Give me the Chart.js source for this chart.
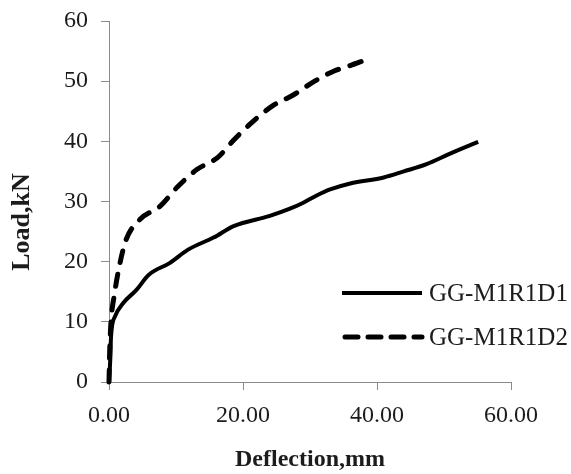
<!DOCTYPE html>
<html>
<head>
<meta charset="utf-8">
<script src="https://cdn.jsdelivr.net/npm/chart.js@4.4.1/dist/chart.umd.min.js"></script>
<style>
  html, body { margin: 0; padding: 0; background: #fff; }
  #wrap { width: 571px; height: 474px; }
</style>
</head>
<body>
<div id="wrap"><canvas id="chart" width="571" height="474"></canvas></div>
<script>
// Load-deflection readings taken off the figure
const d1Defl = [0, 0.2, 0.3, 0.9, 2.1, 4.1, 5.9, 9.1, 11.8, 15.6, 18.6, 24, 27, 29, 31, 33, 36, 41, 44, 47.4, 51, 55.1];
const d1Load = [0, 4, 7.5, 10.9, 13.1, 15.3, 17.8, 19.8, 22, 24, 25.9, 27.6, 28.8, 29.8, 31, 32, 33, 34, 35, 36.2, 38, 39.9];

const d2Defl = [0, 0.1, 0.3, 0.8, 1.5, 2.5, 4.6, 7.6, 10.2, 13.1, 16.2, 18.7, 21.3, 24.4, 27.5, 30.7, 33.6, 36, 38.2];
const d2Load = [0, 5, 10, 14.5, 19, 23.5, 27, 29.2, 32.4, 35.3, 37.3, 40.3, 43.1, 45.9, 47.7, 50, 51.7, 52.6, 53.5];

const seriesNames = ['GG-M1R1D1', 'GG-M1R1D2'];
const xTitle = 'Deflection,mm';
const yTitle = 'Load,kN';

const SERIF = '"Liberation Serif", "Times New Roman", serif';
const AXIS_GREY = '#8a8a8a';
const TEXT = '#1c1c1c';

const toPoints = (xs, ys) => xs.map((x, i) => ({ x, y: ys[i] }));

// legend drawn inside the plot, lower right
const insideLegend = {
  id: 'insideLegend',
  afterDraw(chart) {
    const ctx = chart.ctx;
    const rows = [293, 337];
    ctx.save();
    ctx.font = '25px ' + SERIF;
    ctx.fillStyle = TEXT;
    ctx.textBaseline = 'middle';
    chart.data.datasets.forEach((ds, i) => {
      const y = rows[i];
      ctx.beginPath();
      ctx.strokeStyle = ds.borderColor;
      ctx.lineWidth = ds.borderWidth;
      ctx.lineCap = ds.borderDash.length ? 'round' : 'butt';
      ctx.setLineDash(ds.borderDash.length ? [13, 10] : []);
      ctx.moveTo(ds.borderDash.length ? 345 : 342, y);
      ctx.lineTo(422, y);
      ctx.stroke();
      ctx.setLineDash([]);
      ctx.fillText(ds.label, 429, y + 1);
    });
    ctx.restore();
  }
};

// y title sits a little below the middle of the axis in the original
const yAxisTitle = {
  id: 'yAxisTitle',
  afterDraw(chart) {
    const ctx = chart.ctx;
    ctx.save();
    ctx.translate(22, 222);
    ctx.rotate(-Math.PI / 2);
    ctx.font = 'bold 26px ' + SERIF;
    ctx.fillStyle = TEXT;
    ctx.textAlign = 'center';
    ctx.textBaseline = 'middle';
    ctx.fillText(yTitle, 0, 0);
    ctx.restore();
  }
};

new Chart(document.getElementById('chart').getContext('2d'), {
  type: 'scatter',
  data: {
    datasets: [{
      label: seriesNames[0],
      data: toPoints(d1Defl, d1Load),
      showLine: true,
      borderColor: '#000',
      borderWidth: 4,
      borderDash: [],
      pointRadius: 0,
      cubicInterpolationMode: 'monotone',
      clip: false,
    }, {
      label: seriesNames[1],
      data: toPoints(d2Defl, d2Load),
      showLine: true,
      borderColor: '#000',
      borderWidth: 5,
      borderDash: [12, 12],
      borderCapStyle: 'round',
      pointRadius: 0,
      cubicInterpolationMode: 'monotone',
      clip: false,
    }]
  },
  options: {
    responsive: false,
    animation: false,
    layout: { padding: { top: 21, right: 60, bottom: 0, left: 0 } },
    plugins: {
      legend: { display: false },
      tooltip: { enabled: false }
    },
    scales: {
      x: {
        type: 'linear',
        min: 0,
        max: 60,
        afterFit: s => { s.height = 92; },
        ticks: {
          stepSize: 20,
          padding: 11,
          color: TEXT,
          font: { family: SERIF, size: 24 },
          callback: v => v.toFixed(2)
        },
        grid: { drawOnChartArea: false, drawTicks: true, tickLength: 8, color: AXIS_GREY },
        border: { color: AXIS_GREY, width: 1 },
        title: {
          display: true,
          text: xTitle,
          color: TEXT,
          font: { family: SERIF, size: 24, weight: 'bold' },
          padding: { top: 0, bottom: 0 }
        }
      },
      y: {
        min: 0,
        max: 60,
        afterFit: s => { s.width = 109; s.paddingTop = 0; s.paddingBottom = 0; },
        ticks: {
          stepSize: 10,
          padding: 13,
          color: TEXT,
          font: { family: SERIF, size: 24 }
        },
        grid: { drawOnChartArea: false, drawTicks: true, tickLength: 8, color: AXIS_GREY },
        border: { color: AXIS_GREY, width: 1 }
      }
    }
  },
  plugins: [insideLegend, yAxisTitle]
});
</script>
</body>
</html>
